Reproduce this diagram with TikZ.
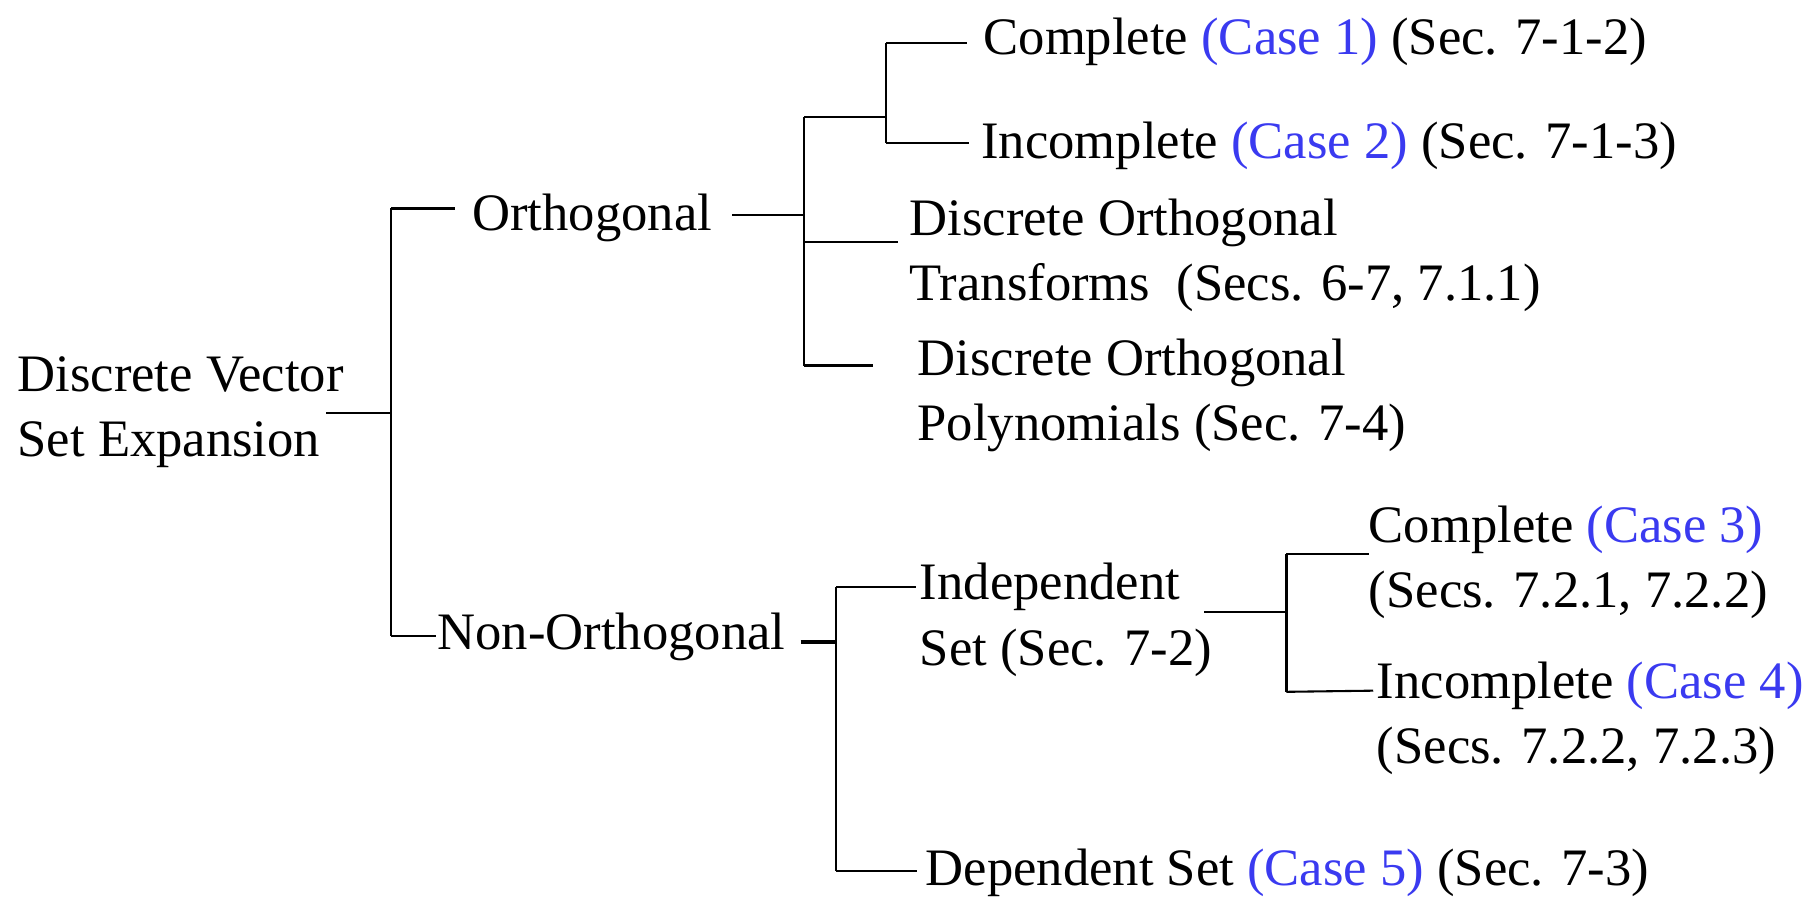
\documentclass[tikz,border=0pt]{standalone}
\usepackage{fontspec}
\setmainfont{Liberation Serif}
\definecolor{caseblue}{RGB}{58,58,240}
\begin{document}
\begin{tikzpicture}[x=1pt,y=-1pt,
  lbl/.style={anchor=base west,inner sep=0pt,align=left,font=\fontsize{45.5}{56.5}\selectfont},
  conn/.style={line width=1.8pt},
  connb/.style={line width=2.8pt},
  cs/.style={text=caseblue}]
\useasboundingbox (0,0) rectangle (1568,775);
% nodes (multi-line nodes are placed by the baseline of their last line)
\node[lbl] (root) at (15,395) {Discrete Vector\\Set Expansion};
\node[lbl] (orth) at (408,199) {Orthogonal};
\node[lbl] (non) at (378,561) {Non-Orthogonal};
\node[lbl] (c1) at (850,47) {Complete \textcolor{caseblue}{(Case 1)} (Sec. 7-1-2)};
\node[lbl] (i2) at (848,137) {Incomplete \textcolor{caseblue}{(Case 2)} (Sec. 7-1-3)};
\node[lbl] (dot) at (786,260) {Discrete Orthogonal\\Transforms\ \ (Secs. 6-7, 7.1.1)};
\node[lbl] (dop) at (793,381) {Discrete Orthogonal\\Polynomials (Sec. 7-4)};
\node[lbl] (ind) at (795,575) {Independent\\Set (Sec. 7-2)};
\node[lbl] (dep) at (800,765) {Dependent Set \textcolor{caseblue}{(Case 5)} (Sec. 7-3)};
\node[lbl] (c3) at (1183,525) {Complete \textcolor{caseblue}{(Case 3)}\\(Secs. 7.2.1, 7.2.2)};
\node[lbl] (i4) at (1190,660) {Incomplete \textcolor{caseblue}{(Case 4)}\\(Secs. 7.2.2, 7.2.3)};
% junction coordinates
\coordinate (rootE) at (282,357);
\coordinate (j1) at (338,357);
\coordinate (j1t) at (338,180);
\coordinate (j1b) at (338,550);
\coordinate (orthIn) at (393,180);
\coordinate (nonIn) at (377,550);
\coordinate (orthE) at (633,186);
\coordinate (j2) at (695,186);
\coordinate (j2a) at (695,101);
\coordinate (j2b) at (695,209);
\coordinate (j2c) at (695,316);
\coordinate (j3) at (766,101);
\coordinate (j3t) at (766,37);
\coordinate (j3b) at (766,124);
\coordinate (c1In) at (836,37);
\coordinate (i2In) at (838,124);
\coordinate (dotIn) at (776,209);
\coordinate (dopIn) at (755,316);
\coordinate (nonE) at (692,555);
\coordinate (j4) at (723,555);
\coordinate (j4t) at (723,507);
\coordinate (j4b) at (723,753);
\coordinate (indIn) at (792,507);
\coordinate (depIn) at (793,753);
\coordinate (indE) at (1041,529);
\coordinate (j5) at (1112,529);
\coordinate (j5t) at (1112,479);
\coordinate (j5b) at (1112,598);
\coordinate (c3In) at (1183,479);
\coordinate (i4In) at (1187,597);
% connectors
\draw[conn] (rootE) -- (j1);
\draw[conn] (j1t) -- (j1b);
\draw[connb] (j1t) -- (orthIn);
\draw[conn] (j1b) -- (nonIn);
\draw[conn] (orthE) -- (j2);
\draw[conn] (j2a) -- (j2c);
\draw[conn] (j2a) -- (j3);
\draw[conn] (j2b) -- (dotIn);
\draw[connb] (j2c) -- (dopIn);
\draw[conn] (j3t) -- (j3b);
\draw[conn] (j3t) -- (c1In);
\draw[conn] (j3b) -- (i2In);
\draw[connb] (nonE) -- (j4);
\draw[conn] (j4t) -- (j4b);
\draw[conn] (j4t) -- (indIn);
\draw[conn] (j4b) -- (depIn);
\draw[conn] (indE) -- (j5);
\draw[conn] (j5t) -- (j5b);
\draw[conn] (j5t) -- (c3In);
\draw[conn] (j5b) -- (i4In);
\end{tikzpicture}
\end{document}
